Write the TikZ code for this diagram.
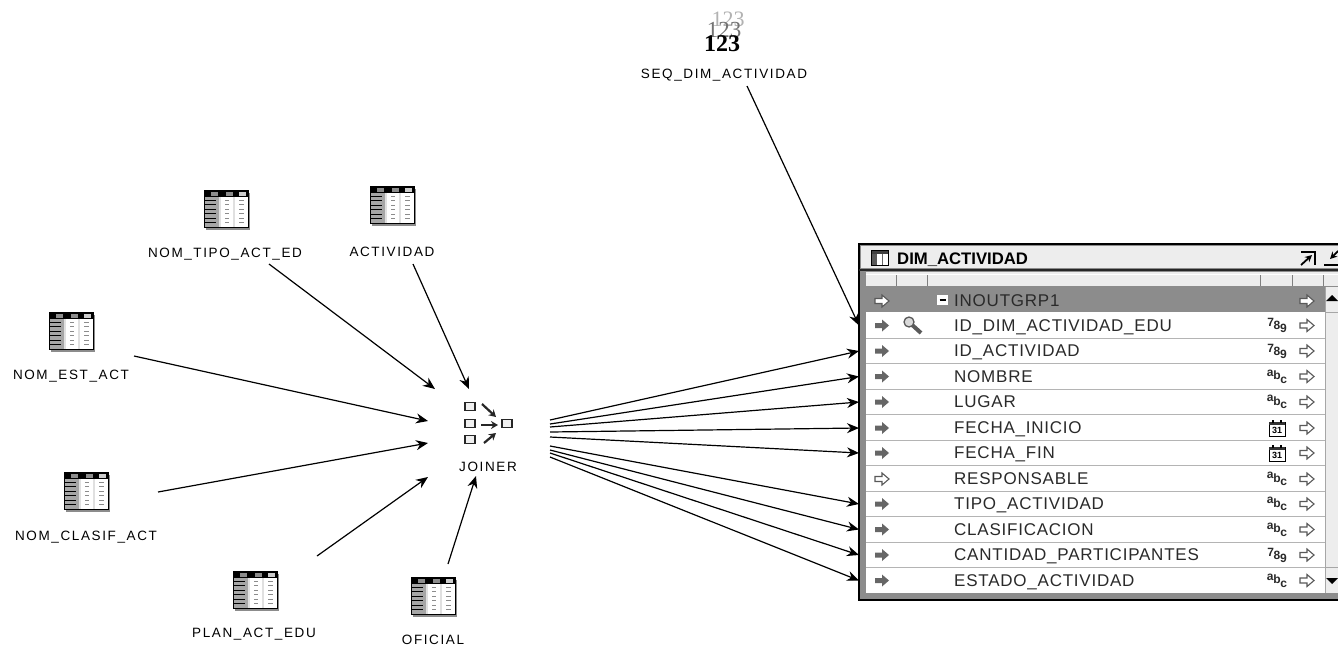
\documentclass[tikz,border=0pt]{standalone}
\usepackage{fontspec}
\setmainfont{Liberation Sans}
\newfontfamily\lblfont[LetterSpace=12]{Liberation Sans}
\newfontfamily\rowfont[LetterSpace=4.5]{Liberation Sans}
\newfontfamily\seqfont{Liberation Serif}
\usetikzlibrary{arrows.meta,calc}
\definecolor{rowInk}{HTML}{2A2A2A}
\definecolor{headGray}{HTML}{8C8C8C}
\definecolor{barGray}{HTML}{EDEDED}
\definecolor{ruleGray}{HTML}{B4B4B4}
\tikzset{
  flow arrow/.style={-{Stealth[length=12pt,width=10pt]},draw=black,line width=1.2pt},
  comp label/.style={font=\lblfont\fontsize{13.5}{15}\selectfont,text=black,inner sep=0pt},
  col text/.style={font=\rowfont\fontsize{17}{19}\selectfont,text=rowInk,anchor=west,inner sep=0pt,
    text height=11pt,text depth=0pt},
  type tag/.style={font=\fontsize{12}{13}\selectfont\bfseries,text=rowInk,inner sep=0pt},
  row rule/.style={draw=ruleGray,line width=1.4pt},
  head rule/.style={draw=white,line width=1pt},
  src table/.pic={
    \fill[black!45] (-20,-16) rectangle (24,21);
    \fill[white] (-22,-18.5) rectangle (22,18.5);
    \fill[black!35] (-22,-12) rectangle (-7,18.5);
    \fill[black!12] (-7,-12) rectangle (-5,18.5);
    \fill[black!12] (7,-12) rectangle (9,18.5);
    \foreach \yy in {-9,-4.5,0,4.5,9,13.5}{
      \draw[black,line width=1pt] (-22,\yy) -- (-10,\yy);
      \draw[black!45,line width=0.8pt] (-1,\yy) -- (3,\yy);
      \draw[black!45,line width=0.8pt] (13,\yy) -- (18,\yy);
    }
    \fill[black] (-22,-18.5) rectangle (22,-12);
    \fill[black!45] (-15,-17) rectangle (-8,-13.5);
    \fill[black!45] (0,-17) rectangle (7,-13.5);
    \fill[black!20] (13,-17) rectangle (20,-13.5);
    \draw[black,line width=1pt] (-22,-18.5) rectangle (22,18.5);
  },
  joiner glyph/.pic={
    \draw[black!85,fill=black!6,line width=1.6pt] (-23,-20.5) rectangle (-13,-12.5);
    \draw[black!85,fill=black!6,line width=1.6pt] (-23,-3.5) rectangle (-13,4.5);
    \draw[black!85,fill=black!6,line width=1.6pt] (-23,12.5) rectangle (-13,20.5);
    \draw[black!85,fill=black!6,line width=1.6pt] (14,-3.5) rectangle (24,4.5);
    \draw[-{Stealth[length=7pt,width=8pt]},black!85,line width=2.2pt] (-6,-19) -- (8,-6);
    \draw[-{Stealth[length=7pt,width=8pt]},black!85,line width=2.2pt] (-7,2) -- (10,2);
    \draw[-{Stealth[length=7pt,width=8pt]},black!85,line width=2.2pt] (-4,20) -- (8,10);
  },
  solid in/.pic={
    \fill[black!60] (-7,-2.5) -- (0,-2.5) -- (0,-6) -- (7,0) -- (0,6) -- (0,2.5) -- (-7,2.5) -- cycle;
  },
  hollow port/.pic={
    \draw[black!65,fill=white,line width=1.1pt] (-7,-2.5) -- (0,-2.5) -- (0,-6) -- (7,0) -- (0,6) -- (0,2.5) -- (-7,2.5) -- cycle;
  },
  key glyph/.pic={
    \draw[black!65,line width=4pt] (-3,-3) -- (8,7);
    \draw[black!65,fill=black!15,line width=1.3pt] (-4,-4) circle (5);
  },
  date glyph/.pic={
    \draw[black,fill=white,line width=1pt] (-8,-6) rectangle (8,8);
    \fill[black!80] (-8,-6) rectangle (8,-3);
    \fill[black] (-5,-8.5) rectangle (-3,-5);
    \fill[black] (3,-8.5) rectangle (5,-5);
    \node[font=\fontsize{9}{9}\selectfont\bfseries,inner sep=0pt] (datenum) at (0,2.6) {31};
  }
}
\newcommand{\numtag}{\raisebox{3pt}{7}\kern-0.3pt\raisebox{0pt}{8}\kern-0.3pt\raisebox{-3pt}{9}}
\newcommand{\txttag}{\raisebox{3.5pt}{a}\kern-0.3pt\raisebox{0pt}{b}\kern-0.3pt\raisebox{-3.5pt}{c}}
% name, y, text, left port, type
\newcommand{\colrow}[5]{
  \draw[row rule] (866,#2+12.7) -- (1325,#2+12.7);
  \node[col text] (#1) at (954,#2) {#3};
  \pic at (882,#2) {#4};
  \pic at (1307,#2) {hollow port};
  \node[type tag] (#1type) at (1277,#2) {#5};
}
\newcommand{\colrowdate}[3]{
  \draw[row rule] (866,#2+12.7) -- (1325,#2+12.7);
  \node[col text] (#1) at (954,#2) {#3};
  \pic at (882,#2) {solid in};
  \pic at (1307,#2) {hollow port};
  \pic at (1277,#2) {date glyph};
}

\begin{document}
\begin{tikzpicture}[x=1pt,y=-1pt]
  \useasboundingbox (0,0) rectangle (1338,646);
  % sources
  \pic at (226,209) {src table};
  \pic at (392,205) {src table};
  \pic at (71,331) {src table};
  \pic at (86,491) {src table};
  \pic at (255,590) {src table};
  \pic at (433,596) {src table};
  \node[comp label] (tipolbl) at (225,254) {NOM\_TIPO\_ACT\_ED};
  \node[comp label] (actlbl) at (392,252) {ACTIVIDAD};
  \node[comp label] (estlbl) at (71,376) {NOM\_EST\_ACT};
  \node[comp label] (claslbl) at (86,537) {NOM\_CLASIF\_ACT};
  \node[comp label] (planlbl) at (254,634) {PLAN\_ACT\_EDU};
  \node[comp label] (oficlbl) at (433,640) {OFICIAL};
  % sequence
  \node[font=\seqfont\fontsize{22}{22}\selectfont,text=black!30,inner sep=0pt] (seqtop) at (728,19) {123};
  \node[font=\seqfont\fontsize{23}{23}\selectfont,text=black!55,inner sep=0pt] (seqmid) at (724,30) {123};
  \node[font=\seqfont\fontsize{24}{24}\selectfont\bfseries,text=black,inner sep=0pt] (seqbot) at (722,44) {123};
  \node[comp label] (seqlbl) at (724,75) {SEQ\_DIM\_ACTIVIDAD};
  % joiner
  \node[minimum width=56pt,minimum height=48pt,inner sep=0pt] (jnr) at (488,423) {};
  \pic at (jnr) {joiner glyph};
  \node[comp label] (jnrlbl) at (488,467) {JOINER};
  % target table
  \node[draw=black,fill=black!45,line width=2.6pt,minimum width=490pt,minimum height=356pt,
    anchor=north west,outer sep=0pt,inner sep=0pt] (dimtbl) at (859,244) {};
  \fill[barGray] (861,246) rectangle (1345,268);
  \draw[black!85,line width=2.4pt] (859,270) -- (1345,270);
  \fill[barGray] (866,272) rectangle (1338,593);
  \fill[white] (866,312) rectangle (1325,593);
  \fill[headGray] (866,287) rectangle (1325,312);
  \draw[head rule] (866,274.5) -- (1338,274.5);
  \draw[black!45,line width=0.8pt] (866,286.5) -- (1338,286.5);
  \draw[black!50,line width=1pt] (896,275) -- (896,286);
  \draw[black!50,line width=1pt] (927,275) -- (927,286);
  \draw[black!50,line width=1pt] (1260,275) -- (1260,286);
  \draw[black!50,line width=1pt] (1292,275) -- (1292,286);
  \draw[black!50,line width=1pt] (1323,275) -- (1323,286);
  \draw[black!35,line width=1pt] (1325,287) -- (1325,593);
  \draw[black!35,line width=0.8pt] (1325,312) -- (1338,312);
  \draw[black!35,line width=0.8pt] (1325,567) -- (1338,567);
  \fill[black] (1332,295) -- (1338,301) -- (1326,301) -- cycle;
  \fill[black] (1326,578) -- (1338,578) -- (1332,584) -- cycle;
  \fill[white] (871,250.5) rectangle (888,265);
  \fill[black!75] (871,250.5) rectangle (888,254);
  \fill[black!65] (871,254) rectangle (877,265);
  \draw[black!60,line width=0.8pt] (882.5,254) -- (882.5,265);
  \draw[black,line width=0.8pt] (871,250.5) rectangle (888,265);
  \node[font=\fontsize{16.7}{18}\selectfont\bfseries,text=black,anchor=west,inner sep=0pt] (tbltitle) at (897,259.5) {DIM\_ACTIVIDAD};
  \draw[black,line width=1.6pt] (1301,252) -- (1315,252) -- (1315,265);
  \draw[-{Stealth[length=7pt,width=7pt]},black,line width=1.8pt] (1301,265) -- (1312,255);
  \draw[-{Stealth[length=7pt,width=7pt]},black,line width=1.8pt] (1338,251) -- (1330,259);
  \draw[black,line width=1.8pt] (1324,265) -- (1338,265);
  % rows
  \pic at (882,301) {hollow port};
  \fill[white] (937,295) rectangle (948,305);
  \draw[black,line width=1.3pt] (939.5,300) -- (945.5,300);
  \node[col text] (inout) at (954,301) {INOUTGRP1};
  \pic at (1307,301) {hollow port};
  \colrow{idedu}{325.5}{ID\_DIM\_ACTIVIDAD\_EDU}{solid in}{\numtag}
  \pic at (913,326) {key glyph};
  \colrow{idact}{351}{ID\_ACTIVIDAD}{solid in}{\numtag}
  \colrow{nombre}{376.5}{NOMBRE}{solid in}{\txttag}
  \colrow{lugar}{402}{LUGAR}{solid in}{\txttag}
  \colrowdate{fini}{428}{FECHA\_INICIO}
  \colrowdate{ffin}{453}{FECHA\_FIN}
  \colrow{resp}{479}{RESPONSABLE}{hollow port}{\txttag}
  \colrow{tipo}{504}{TIPO\_ACTIVIDAD}{solid in}{\txttag}
  \colrow{clasif}{529.5}{CLASIFICACION}{solid in}{\txttag}
  \colrow{cant}{555}{CANTIDAD\_PARTICIPANTES}{solid in}{\numtag}
  \node[col text] (estado) at (954,580.5) {ESTADO\_ACTIVIDAD};
  \pic at (882,580.5) {solid in};
  \pic at (1307,580.5) {hollow port};
  \node[type tag] (estadotype) at (1277,580.5) {\txttag};
  % flows in
  \draw[flow arrow] ([shift={(44,10)}]tipolbl.center) -- ([shift={(-53,-34)}]jnr.center);
  \draw[flow arrow] ([shift={(21,12)}]actlbl.center) -- ([shift={(-19,-34)}]jnr.center);
  \draw[flow arrow] ([shift={(63,-20)}]estlbl.center) -- ([shift={(-60,-2)}]jnr.center);
  \draw[flow arrow] ([shift={(72,-45)}]claslbl.center) -- ([shift={(-60,20)}]jnr.center);
  \draw[flow arrow] ([shift={(63,-78)}]planlbl.center) -- ([shift={(-60,54)}]jnr.center);
  \draw[flow arrow] ([shift={(15,-76)}]oficlbl.center) -- ([shift={(-12,53)}]jnr.center);
  \draw[flow arrow] ([shift={(23,11)}]seqlbl.center) -- (idedu.west -| dimtbl.west);
  % flows out
  \draw[flow arrow] ([shift={(62,-3)}]jnr.center) -- (idact.west -| dimtbl.west);
  \draw[flow arrow] ([shift={(62,1)}]jnr.center) -- (nombre.west -| dimtbl.west);
  \draw[flow arrow] ([shift={(62,4)}]jnr.center) -- (lugar.west -| dimtbl.west);
  \draw[flow arrow] ([shift={(62,9)}]jnr.center) -- (fini.west -| dimtbl.west);
  \draw[flow arrow] ([shift={(62,14)}]jnr.center) -- (ffin.west -| dimtbl.west);
  \draw[flow arrow] ([shift={(62,23)}]jnr.center) -- (tipo.west -| dimtbl.west);
  \draw[flow arrow] ([shift={(62,27)}]jnr.center) -- (clasif.west -| dimtbl.west);
  \draw[flow arrow] ([shift={(62,30)}]jnr.center) -- (cant.west -| dimtbl.west);
  \draw[flow arrow] ([shift={(62,34)}]jnr.center) -- (estado.west -| dimtbl.west);
\end{tikzpicture}
\end{document}
